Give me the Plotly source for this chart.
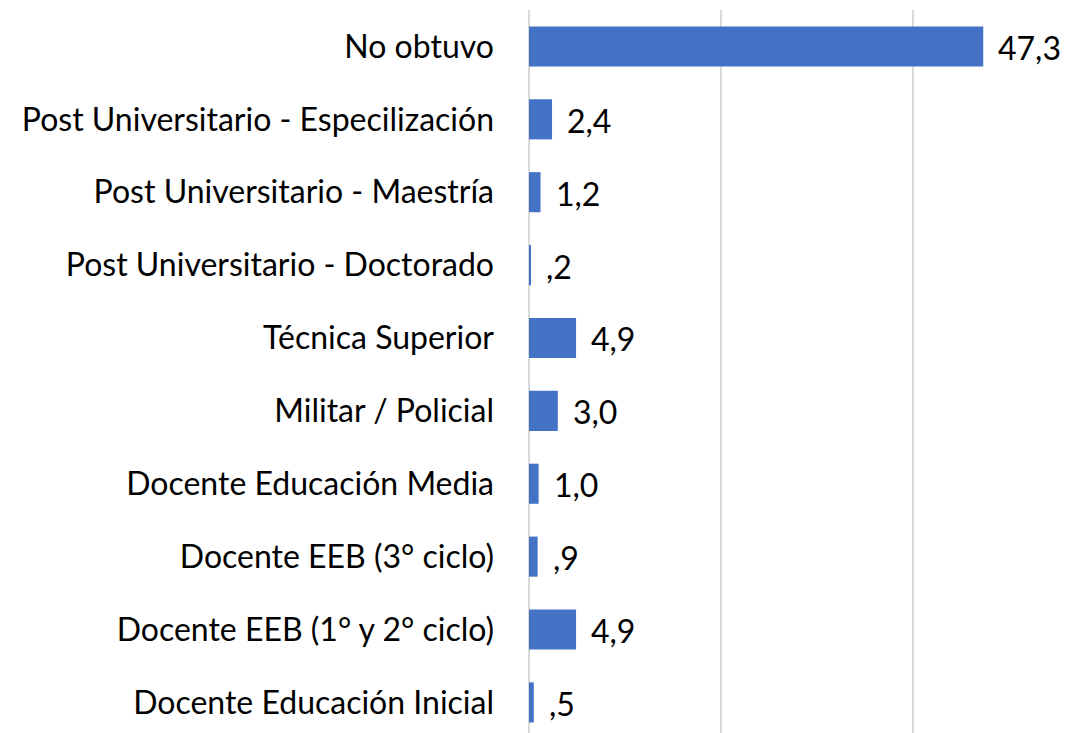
import plotly.graph_objects as go

categories = [
    "No obtuvo",
    "Post Universitario - Especilización",
    "Post Universitario - Maestría",
    "Post Universitario - Doctorado",
    "Técnica Superior",
    "Militar / Policial",
    "Docente Educación Media",
    "Docente EEB (3° ciclo)",
    "Docente EEB (1° y 2° ciclo)",
    "Docente Educación Inicial",
]
values = [47.3, 2.4, 1.2, 0.2, 4.9, 3.0, 1.0, 0.9, 4.9, 0.5]


def fmt(v):
    s = f"{v:.1f}".replace(".", ",")
    if s.startswith("0"):
        s = s[1:]
    return s


labels = [fmt(v) for v in values]

FONT = "Lato"
FS = 32
BLUE = "#4472C4"

fig = go.Figure()
fig.add_trace(go.Bar(
    x=values,
    y=categories,
    orientation="h",
    marker=dict(color=BLUE, line=dict(width=0)),
    width=0.55,
    hoverinfo="skip",
))

for c, v, t in zip(categories, values, labels):
    fig.add_annotation(
        x=v, y=c, text=t, showarrow=False,
        xanchor="left", yanchor="middle", xshift=13, yshift=-1,
        font=dict(family=FONT, size=FS, color="#000000"),
    )

fig.update_layout(
    width=1092, height=733,
    margin=dict(l=529, r=6, t=10, b=0),
    plot_bgcolor="white", paper_bgcolor="white",
    showlegend=False,
    font=dict(family=FONT, size=FS, color="#000000"),
)
fig.update_xaxes(
    range=[0, 58], dtick=20, showgrid=True, gridcolor="#D9D9D9", gridwidth=1.5,
    zeroline=True, zerolinecolor="#D9D9D9", zerolinewidth=1.5,
    showticklabels=False, showline=False, ticks="",
)
fig.update_yaxes(
    type="category", range=[9.42, -0.5], showgrid=False, showline=False,
    ticks="", ticklabelstandoff=34,
    tickfont=dict(family=FONT, size=FS, color="#000000"),
)

fig.write_html("out.html")
